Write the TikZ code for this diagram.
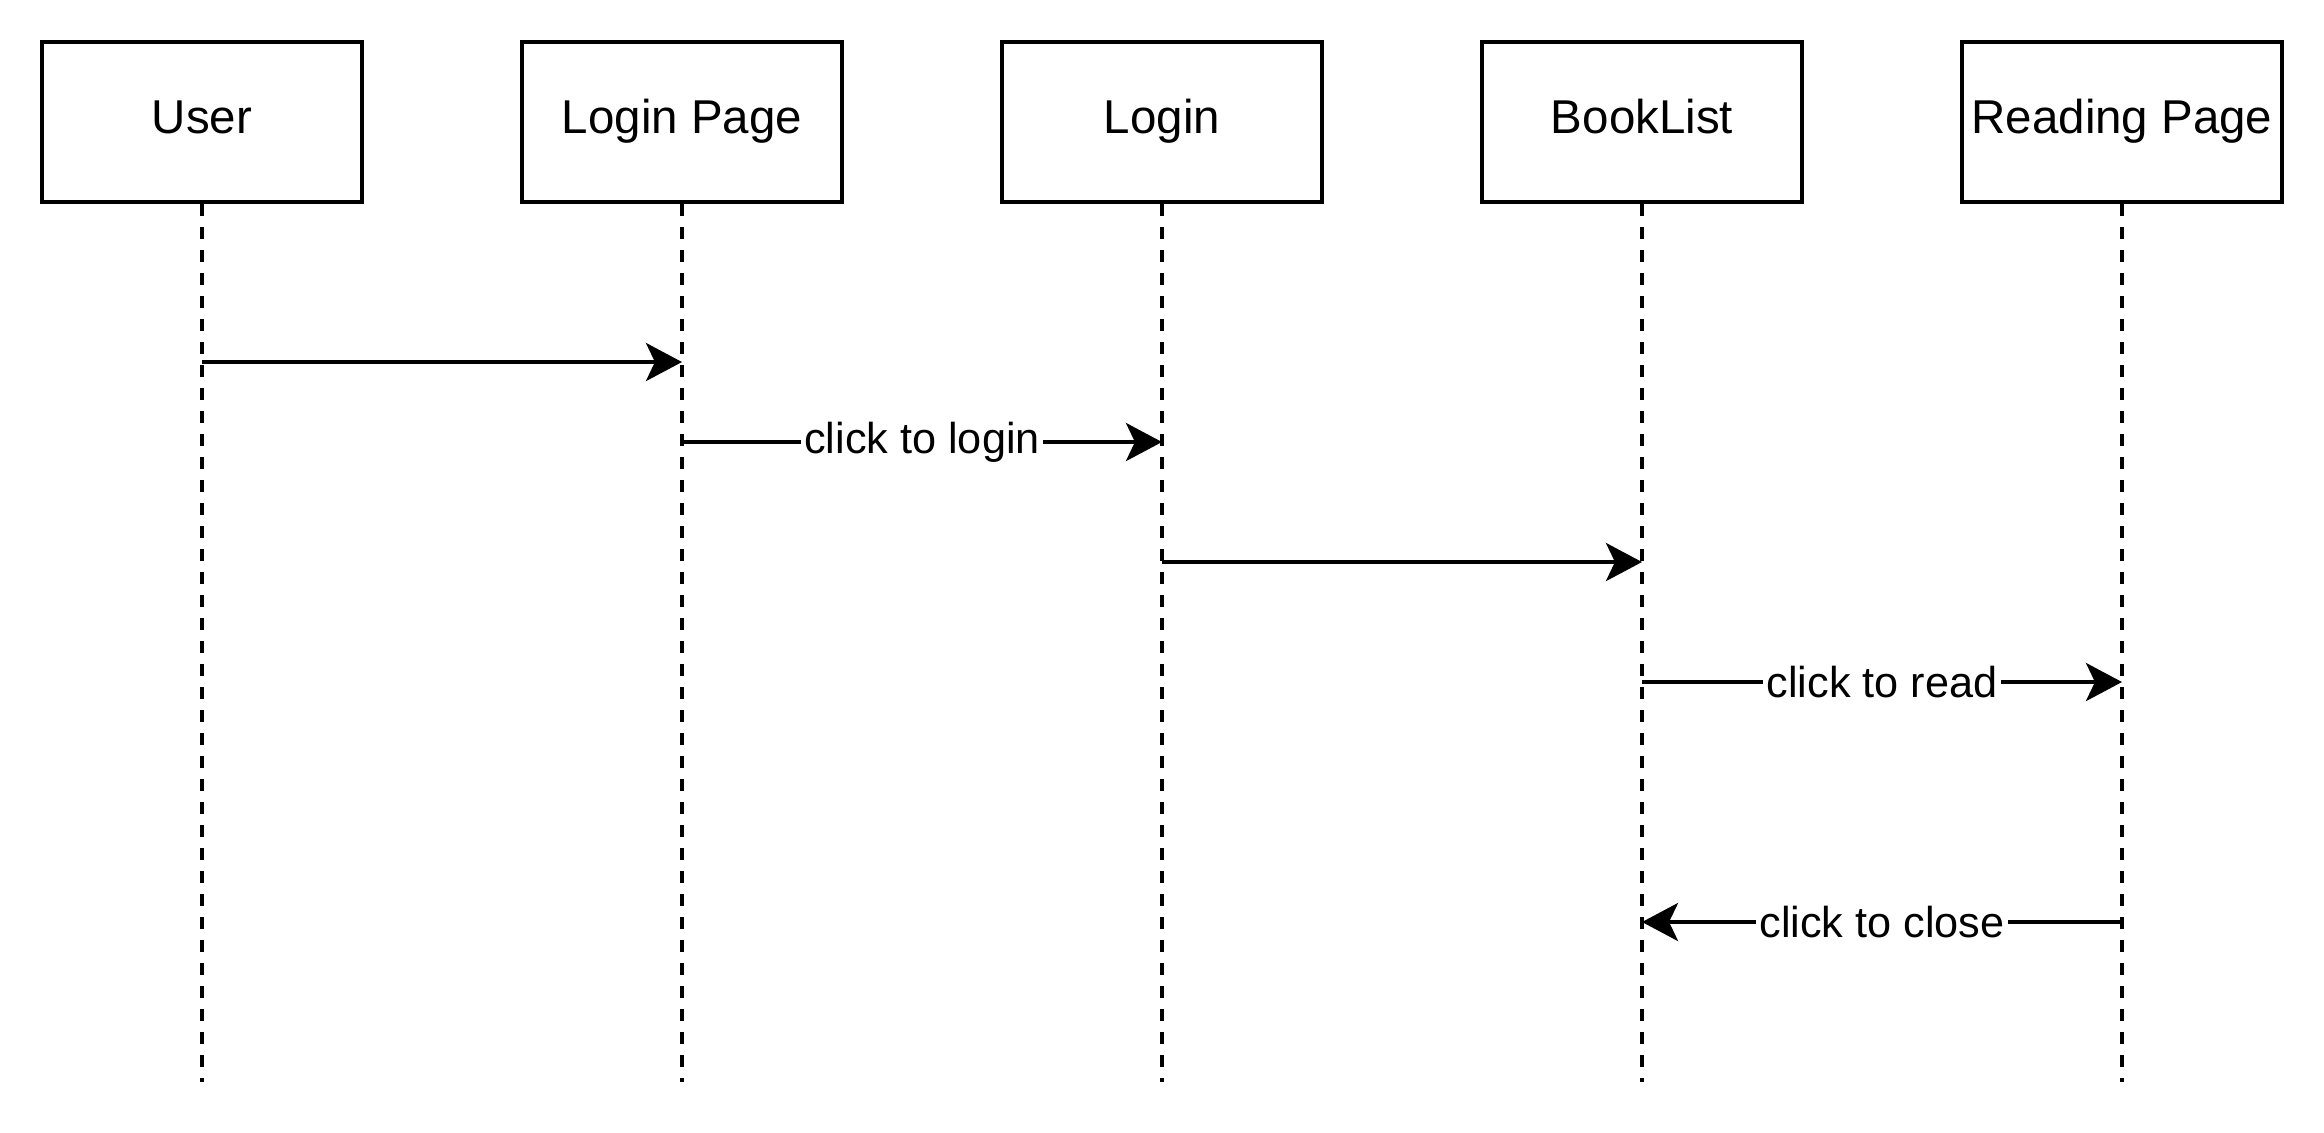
\documentclass[tikz,border=0pt]{standalone}
\usepackage{fontspec}
\setmainfont{Liberation Sans}
\usetikzlibrary{arrows.meta}

\begin{document}
\begin{tikzpicture}[x=0.01cm, y=-0.01cm,
    actor/.style={draw, line width=1.1pt, minimum width=3.2cm, minimum height=1.6cm, inner sep=0pt, text height=1.5ex, text depth=0.3ex, font=\fontsize{13.5}{16}\selectfont},
    lifeline/.style={line width=1.1pt, dash pattern=on 0.12cm off 0.11cm},
    msg/.style={line width=1.1pt, -{Stealth[length=3.6mm, width=3.8mm, inset=0.9mm]}},
    msglabel/.style={fill=white, inner sep=1pt, font=\fontsize{12.3}{14}\selectfont}]
\useasboundingbox (0,0) rectangle (2324,1132);

% Participants
\node[actor] (user) at (202,122) {User};
\node[actor] (loginpage) at (682,122) {Login Page};
\node[actor] (login) at (1162,122) {Login};
\node[actor] (booklist) at (1642,122) {BookList};
\node[actor] (reading) at (2122,122) {Reading Page};

% Lifelines
\coordinate (userend) at (202,1082);
\coordinate (loginpageend) at (682,1082);
\coordinate (loginend) at (1162,1082);
\coordinate (booklistend) at (1642,1082);
\coordinate (readingend) at (2122,1082);
\draw[lifeline] (user.south) -- (userend);
\draw[lifeline] (loginpage.south) -- (loginpageend);
\draw[lifeline] (login.south) -- (loginend);
\draw[lifeline] (booklist.south) -- (booklistend);
\draw[lifeline] (reading.south) -- (readingend);

% Message points
\coordinate (u1) at (202,362);
\coordinate (lp1) at (682,362);
\coordinate (lp2) at (682,442);
\coordinate (l2) at (1162,442);
\coordinate (l3) at (1162,562);
\coordinate (b3) at (1642,562);
\coordinate (b4) at (1642,682);
\coordinate (r4) at (2122,682);
\coordinate (r5) at (2122,922);
\coordinate (b5) at (1642,922);

% Messages
\draw[msg] (u1) -- (lp1);
\draw[msg] (lp2) -- node[msglabel] {click to login} (l2);
\draw[msg] (l3) -- (b3);
\draw[msg] (b4) -- node[msglabel] {click to read} (r4);
\draw[msg] (r5) -- node[msglabel] {click to close} (b5);
\end{tikzpicture}
\end{document}
